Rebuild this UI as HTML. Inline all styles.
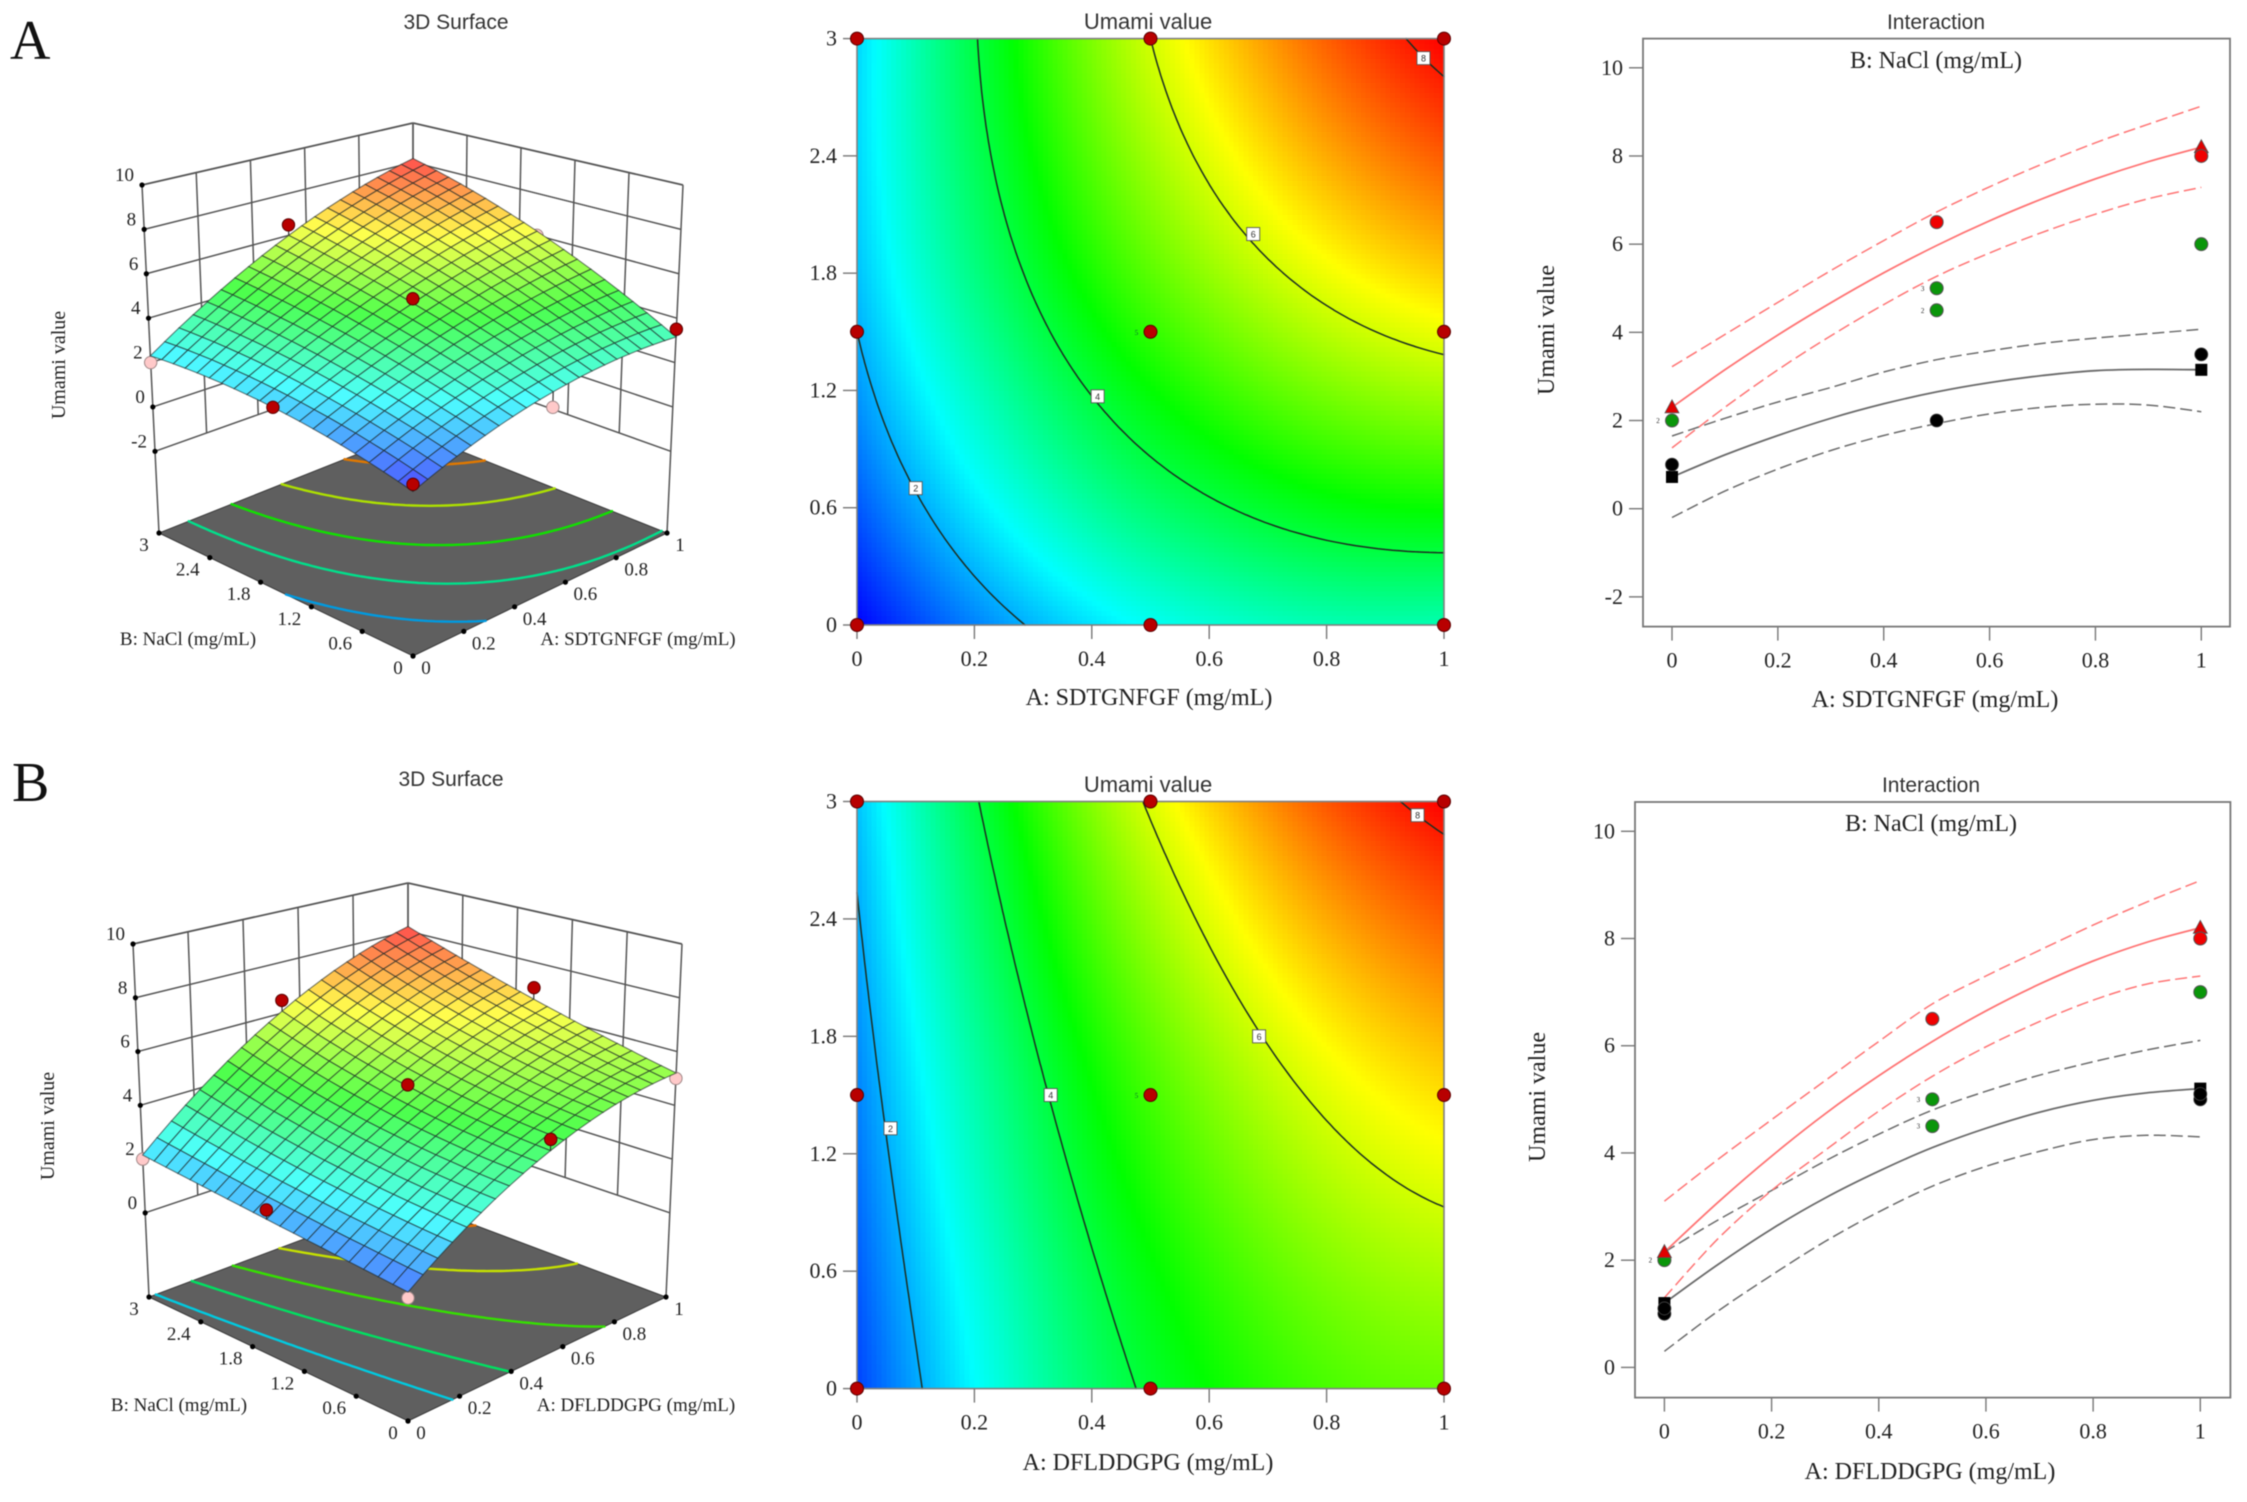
<!DOCTYPE html>
<html lang="en">
<head>
<meta charset="utf-8">
<title>Umami value response surface panels</title>
<style>
html,body{margin:0;padding:0;background:#fff;width:2247px;height:1502px;overflow:hidden}
svg{display:block;filter:blur(0.5px)}
.serif{font-family:"Liberation Serif",serif;fill:#222}
.sans{font-family:"Liberation Sans",sans-serif;fill:#333}
</style>
</head>
<body>
<svg id="figure" xmlns="http://www.w3.org/2000/svg" width="2247" height="1502" viewBox="0 0 2247 1502">
  <text class="serif" x="10" y="59" font-size="56" style="fill:#111">A</text>
  <text class="serif" x="12" y="801" font-size="56" style="fill:#111">B</text>

  <text class="sans" x="456" y="29" font-size="21" text-anchor="middle">3D Surface</text>
  <text class="sans" x="1148" y="29" font-size="22" text-anchor="middle">Umami value</text>
  <text class="sans" x="1936" y="29" font-size="21" text-anchor="middle">Interaction</text>
  <text class="sans" x="451" y="786" font-size="21" text-anchor="middle">3D Surface</text>
  <text class="sans" x="1148" y="792" font-size="22" text-anchor="middle">Umami value</text>
  <text class="sans" x="1931" y="792" font-size="21" text-anchor="middle">Interaction</text>

  <text class="serif" x="638" y="645" font-size="19" text-anchor="middle">A: SDTGNFGF (mg/mL)</text>
  <text class="serif" x="188" y="645" font-size="19" text-anchor="middle">B: NaCl (mg/mL)</text>
  <text class="serif" x="636" y="1411" font-size="19" text-anchor="middle">A: DFLDDGPG (mg/mL)</text>
  <text class="serif" x="179" y="1411" font-size="19" text-anchor="middle">B: NaCl (mg/mL)</text>
  <text class="serif" font-size="20" text-anchor="middle" transform="translate(65 365) rotate(-90)">Umami value</text>
  <text class="serif" font-size="20" text-anchor="middle" transform="translate(54 1126) rotate(-90)">Umami value</text>

  <text class="serif" x="1149" y="705" font-size="24" text-anchor="middle">A: SDTGNFGF (mg/mL)</text>
  <text class="serif" x="1148" y="1470" font-size="24" text-anchor="middle">A: DFLDDGPG (mg/mL)</text>

  <text class="serif" x="1935" y="707" font-size="24" text-anchor="middle">A: SDTGNFGF (mg/mL)</text>
  <text class="serif" x="1930" y="1479" font-size="24" text-anchor="middle">A: DFLDDGPG (mg/mL)</text>
  <text class="serif" x="1936" y="68" font-size="24" text-anchor="middle">B: NaCl (mg/mL)</text>
  <text class="serif" x="1931" y="831" font-size="24" text-anchor="middle">B: NaCl (mg/mL)</text>
  <text class="serif" font-size="24" text-anchor="middle" transform="translate(1554 330) rotate(-90)">Umami value</text>
  <text class="serif" font-size="24" text-anchor="middle" transform="translate(1545 1097) rotate(-90)">Umami value</text>

  <g id="surface-a"></g>
  <g id="contour-a"></g>
  <g id="interaction-a"></g>
  <g id="surface-b"></g>
  <g id="contour-b"></g>
  <g id="interaction-b"></g>
</svg>

<script>
/* ---------- data ---------- */
const factorALevels = [0, 0.5, 1];
const factorBLevels = [0, 1.5, 3];
/* predicted umami at the design levels, one row per NaCl level */
const predictedPanelA = [[0.72, 2.65, 3.15], [2.0, 4.8, 6.2], [2.3, 6.0, 8.2]];
const predictedPanelB = [[1.2, 4.1, 5.2], [1.67, 4.95, 6.55], [2.15, 6.08, 8.2]];
const colorRange = [0.72, 8.2];

/* measured runs */
const runFactorA = [0, 0, 0, 0.5, 0.5, 0.5, 1, 1, 1];
const runFactorB = [0, 1.5, 3, 0, 1.5, 3, 0, 1.5, 3];
const runUmamiPanelA = [1, 2, 2, 2, 5, 6.5, 3.5, 6, 8];
const runUmamiPanelB = [1, 2, 2, 4.5, 5, 6.5, 5, 7, 8];

const floorLevelsPanelA = [2.0, 3.3, 4.6, 5.9, 7.2];
const floorLevelsPanelB = [2.4, 3.65, 4.9, 6.1, 7.3];

const contourLevels = [2, 4, 6, 8];
const contourLabelLevels = [2, 4, 6, 8];
const contourLabelAPanelA = [0.1, 0.41, 0.675, 0.965];
const contourLabelBPanelA = [0.7, 1.17, 2.0, 2.9];
const contourLabelAPanelB = [0.057, 0.33, 0.685, 0.955];
const contourLabelBPanelB = [1.33, 1.5, 1.8, 2.93];

const factorATicks = [0, 0.2, 0.4, 0.6, 0.8, 1];
const factorATickLabels = ['0', '0.2', '0.4', '0.6', '0.8', '1'];
const factorBTicks = [0, 0.6, 1.2, 1.8, 2.4, 3];
const factorBTickLabels = ['0', '0.6', '1.2', '1.8', '2.4', '3'];
const umamiTicksPanelA = [-2, 0, 2, 4, 6, 8, 10];
const umamiTickLabelsPanelA = ['-2', '0', '2', '4', '6', '8', '10'];
const umamiTicksPanelB = [0, 2, 4, 6, 8, 10];
const umamiTickLabelsPanelB = ['0', '2', '4', '6', '8', '10'];

/* interaction curves */
const curveA = [0, 0.1, 0.2, 0.3, 0.4, 0.5, 0.6, 0.7, 0.8, 0.9, 1];
const highMeanPanelA = [2.3, 3.15, 3.94, 4.67, 5.35, 5.97, 6.53, 7.03, 7.48, 7.87, 8.2];
const highUpperPanelA = [3.22, 3.95, 4.68, 5.4, 6.08, 6.73, 7.3, 7.82, 8.3, 8.72, 9.13];
const highLowerPanelA = [1.38, 2.3, 3.15, 3.92, 4.63, 5.27, 5.8, 6.27, 6.68, 7.03, 7.29];
const lowMeanPanelA = [0.72, 1.22, 1.66, 2.05, 2.38, 2.65, 2.86, 3.02, 3.13, 3.16, 3.15];
const lowUpperPanelA = [1.65, 2.05, 2.42, 2.75, 3.1, 3.38, 3.58, 3.75, 3.87, 3.97, 4.07];
const lowLowerPanelA = [-0.2, 0.4, 0.9, 1.32, 1.66, 1.93, 2.15, 2.3, 2.37, 2.35, 2.2];

const highMeanPanelB = [2.15, 3.08, 3.94, 4.73, 5.44, 6.08, 6.65, 7.15, 7.58, 7.93, 8.2];
const highUpperPanelB = [3.1, 3.88, 4.62, 5.35, 6.08, 6.78, 7.3, 7.78, 8.25, 8.68, 9.08];
const highLowerPanelB = [1.3, 2.4, 3.3, 4.05, 4.78, 5.43, 5.98, 6.45, 6.85, 7.15, 7.3];
const lowMeanPanelB = [1.2, 1.92, 2.58, 3.16, 3.66, 4.1, 4.46, 4.76, 4.98, 5.12, 5.2];
const lowUpperPanelB = [2.15, 2.75, 3.3, 3.85, 4.35, 4.8, 5.15, 5.45, 5.7, 5.92, 6.1];
const lowLowerPanelB = [0.3, 1.05, 1.72, 2.35, 2.9, 3.38, 3.75, 4.03, 4.25, 4.33, 4.3];

/* interaction points */
const highPointA = [0.5, 1];
const highPointYPanelA = [6.5, 8];
const highPointYPanelB = [6.5, 8];
const midPointA = [0, 0.5, 0.5, 1];
const midPointYPanelA = [2, 5, 4.5, 6];
const midPointYPanelB = [2, 5, 4.5, 7];
const midPointCounts = ['2', '3', '2', ''];
const midPointCountsPanelB = ['2', '3', '3', ''];
const lowPointAPanelA = [0, 0.5, 1];
const lowPointYPanelA = [1, 2, 3.5];
const lowPointAPanelB = [0, 0, 1, 1];
const lowPointYPanelB = [1, 1.1, 5, 5.1];
const endpointA = [0, 1];
const highEndYPanelA = [2.3, 8.2];
const lowEndYPanelA = [0.72, 3.15];
const highEndYPanelB = [2.15, 8.2];
const lowEndYPanelB = [1.2, 5.2];

/* ---------- helpers ---------- */
const NS = 'http://www.w3.org/2000/svg';
function mk(parent, tag, attrs, text) {
  const node = document.createElementNS(NS, tag);
  for (const k in attrs) node.setAttribute(k, attrs[k]);
  if (text !== undefined) node.textContent = text;
  parent.appendChild(node);
  return node;
}
function lagrange(levels, t) {
  return levels.map((li, i) => {
    let w = 1;
    levels.forEach((lj, j) => { if (i !== j) w *= (t - lj) / (li - lj); });
    return w;
  });
}
function fieldAt(table, a, b) {
  const wa = lagrange(factorALevels, a);
  const wb = lagrange(factorBLevels, b);
  let s = 0;
  for (let r = 0; r < 3; r++) for (let c = 0; c < 3; c++) s += table[r][c] * wb[r] * wa[c];
  return s;
}
const rainbow = [[0, 0, 255], [0, 255, 255], [0, 255, 0], [255, 255, 0], [255, 0, 0]];
function rainbowColor(v) {
  let t = (v - colorRange[0]) / (colorRange[1] - colorRange[0]);
  t = Math.max(0, Math.min(1, t)) * 4;
  const i = Math.min(3, Math.floor(t));
  const f = t - i;
  return [0, 1, 2].map(k => rainbow[i][k] + (rainbow[i + 1][k] - rainbow[i][k]) * f);
}
function cssColor(c, mixWhite, dark) {
  const m = mixWhite || 0, d = dark || 1;
  const out = c.map(x => Math.round((x + (255 - x) * m) * d));
  return 'rgb(' + out.join(',') + ')';
}
function contourSegments(table, level, n) {
  const segs = [];
  const A = i => i / n;
  const B = j => 3 * j / n;
  for (let i = 0; i < n; i++) {
    for (let j = 0; j < n; j++) {
      const c = [[A(i), B(j)], [A(i + 1), B(j)], [A(i + 1), B(j + 1)], [A(i), B(j + 1)]];
      const v = c.map(p => fieldAt(table, p[0], p[1]) - level);
      const pts = [];
      for (let e = 0; e < 4; e++) {
        const p = c[e], q = c[(e + 1) % 4], vp = v[e], vq = v[(e + 1) % 4];
        if ((vp < 0) !== (vq < 0)) {
          const f = vp / (vp - vq);
          pts.push([p[0] + (q[0] - p[0]) * f, p[1] + (q[1] - p[1]) * f]);
        }
      }
      if (pts.length === 2) segs.push(pts);
      if (pts.length === 4) { segs.push([pts[0], pts[1]]); segs.push([pts[2], pts[3]]); }
    }
  }
  return segs;
}
function segmentsToPath(segs, mapPoint) {
  let d = '';
  segs.forEach(s => {
    const p = mapPoint(s[0]), q = mapPoint(s[1]);
    d += 'M' + p[0].toFixed(1) + ' ' + p[1].toFixed(1) + 'L' + q[0].toFixed(1) + ' ' + q[1].toFixed(1);
  });
  return d;
}
function smoothPath(pts) {
  let d = 'M' + pts[0][0].toFixed(1) + ' ' + pts[0][1].toFixed(1);
  for (let i = 0; i < pts.length - 1; i++) {
    const p0 = pts[Math.max(0, i - 1)], p1 = pts[i], p2 = pts[i + 1], p3 = pts[Math.min(pts.length - 1, i + 2)];
    const c1 = [p1[0] + (p2[0] - p0[0]) / 6, p1[1] + (p2[1] - p0[1]) / 6];
    const c2 = [p2[0] - (p3[0] - p1[0]) / 6, p2[1] - (p3[1] - p1[1]) / 6];
    d += 'C' + c1[0].toFixed(1) + ' ' + c1[1].toFixed(1) + ' ' + c2[0].toFixed(1) + ' ' + c2[1].toFixed(1) + ' ' + p2[0].toFixed(1) + ' ' + p2[1].toFixed(1);
  }
  return d;
}

/* ---------- 3D surface ---------- */
function drawSurface(rootId, cfg) {
  const root = document.getElementById(rootId);
  const project = (a, b, z) => {
    const u = a, v = b / 3, w = (z - cfg.floorZ) / (cfg.topZ - cfg.floorZ);
    const bil = (c00, c10, c01, c11, k) =>
      c00[k] * (1 - u) * (1 - v) + c10[k] * u * (1 - v) + c01[k] * (1 - u) * v + c11[k] * u * v;
    const out = [];
    for (let k = 0; k < 2; k++) {
      const lo = bil(cfg.f00, cfg.f10, cfg.f01, cfg.f11, k);
      const hi = bil(cfg.t00, cfg.t10, cfg.t01, cfg.t11, k);
      out.push(lo + (hi - lo) * w);
    }
    return out;
  };
  /* the mesh and runs are drawn with foreshortening: near cells larger than far ones */
  const depthCurve = 0.136;
  const projectSurface = (a, b, z) => {
    const v = b / 3;
    const u2 = a + depthCurve * a * (1 - a) * (2 * v - 1) * (2 * v - 1);
    const v2 = v + depthCurve * v * (1 - v) * (2 * a - 1) * (2 * a - 1);
    return project(u2, v2 * 3, z);
  };
  const zMin = cfg.zTicks[0];
  const wall = (p, q, width) => {
    const ln = mk(root, 'line', { x1: p[0], y1: p[1], x2: q[0], y2: q[1], stroke: '#555', 'stroke-width': width });
    
    
  };
  cfg.zTicks.forEach(z => {
    const w = z === 10 ? 1.8 : 1.5;
    wall(project(0, 3, z), project(1, 3, z), w);
    wall(project(1, 3, z), project(1, 0, z), w);
  });
  factorATicks.forEach(a => wall(project(a, 3, a === 0 || a === 1 ? cfg.floorZ : zMin), project(a, 3, 10), 1.5));
  factorBTicks.forEach(b => wall(project(1, b, b === 0 || b === 3 ? cfg.floorZ : zMin), project(1, b, 10), 1.5));

  /* floor */
  const floorPts = [project(0, 0, cfg.floorZ), project(1, 0, cfg.floorZ), project(1, 3, cfg.floorZ), project(0, 3, cfg.floorZ)];
  const floor = mk(root, 'polygon', { points: floorPts.map(p => p.join(',')).join(' '), fill: '#5f5f5f', stroke: '#3a3a3a', 'stroke-width': 1 });
  
  
  cfg.floorLevels.forEach(level => {
    const segs = contourSegments(cfg.table, level, 60);
    const path = mk(root, 'path', {
      d: segmentsToPath(segs, p => project(p[0], p[1], cfg.floorZ)),
      fill: 'none', stroke: cssColor(rainbowColor(level), 0, 0.88), 'stroke-width': 2.4, 'stroke-linecap': 'round'
    });
    
    
  });

  /* ticks */
  factorATicks.forEach((a, i) => {
    const p = project(a, 0, cfg.floorZ);
    const dot = mk(root, 'circle', { cx: p[0], cy: p[1], r: 2.6, fill: '#000' });
    
    
    const label = factorATickLabels[i];
    const dx = label.length > 1 ? 20 : 13;
    const t = mk(root, 'text', { x: p[0] + dx, y: p[1] + 18, 'font-size': 19, 'text-anchor': 'middle', class: 'serif' }, label);
    
    
  });
  factorBTicks.forEach((b, i) => {
    const p = project(0, b, cfg.floorZ);
    const dot = mk(root, 'circle', { cx: p[0], cy: p[1], r: 2.6, fill: '#000' });
    
    
    const label = factorBTickLabels[i];
    const dx = label.length > 1 ? -22 : -15;
    const t = mk(root, 'text', { x: p[0] + dx, y: p[1] + 18, 'font-size': 19, 'text-anchor': 'middle', class: 'serif' }, label);
    
    
  });
  cfg.zTicks.forEach((z, i) => {
    const p = project(0, 3, z);
    const dot = mk(root, 'circle', { cx: p[0], cy: p[1], r: 2.6, fill: '#000' });
    
    
    const t = mk(root, 'text', { x: p[0] - 8, y: p[1] - 4, 'font-size': 19, 'text-anchor': 'end', class: 'serif' }, cfg.zTickLabels[i]);
    
    
  });

  /* markers */
  const drawMarker = i => {
    const a = runFactorA[i], b = runFactorB[i], z = cfg.runs[i];
    const pred = fieldAt(cfg.table, a, b);
    const above = z >= pred;
    const p = projectSurface(a, b, z), s = projectSurface(a, b, pred);
    const stem = mk(root, 'line', { x1: p[0], y1: p[1], x2: s[0], y2: s[1], stroke: '#333', 'stroke-width': 1.2 });
    
    
    const dot = mk(root, 'circle', { cx: p[0], cy: p[1], r: 6.2, fill: above ? '#b80000' : '#ffc9c9', stroke: above ? '#5a0000' : '#a08888', 'stroke-width': 1 });
    
    
  };
  const isAbove = i => cfg.runs[i] >= fieldAt(cfg.table, runFactorA[i], runFactorB[i]);
  /* the far-corner run sits behind the surface peak and is not visible */
  const isHidden = i => runFactorA[i] === 1 && runFactorB[i] === 3;
  runFactorA.forEach((_, i) => { if (!isAbove(i) && !isHidden(i)) drawMarker(i); });

  /* surface mesh, back to front */
  const n = 20;
  for (let i = n - 1; i >= 0; i--) {
    for (let j = n - 1; j >= 0; j--) {
      const a0 = i / n, a1 = (i + 1) / n, b0 = 3 * j / n, b1 = 3 * (j + 1) / n;
      const corners = [[a0, b0], [a1, b0], [a1, b1], [a0, b1]];
      const pts = corners.map(c => projectSurface(c[0], c[1], fieldAt(cfg.table, c[0], c[1])));
      const v = fieldAt(cfg.table, (a0 + a1) / 2, (b0 + b1) / 2);
      const cell = mk(root, 'polygon', {
        points: pts.map(p => p[0].toFixed(1) + ',' + p[1].toFixed(1)).join(' '),
        fill: cssColor(rainbowColor(v), 0.3),
        stroke: 'rgba(25,35,35,0.6)', 'stroke-width': 1.1
      });
      
      
    }
  }
  runFactorA.forEach((_, i) => { if (isAbove(i)) drawMarker(i); });
}

/* ---------- contour plot ---------- */
function drawContour(rootId, cfg) {
  const root = document.getElementById(rootId);
  const xScale = a => cfg.x0 + a * (cfg.x1 - cfg.x0);
  const yScale = b => cfg.y1 - (b / 3) * (cfg.y1 - cfg.y0);
  const n = 120;
  const heat = mk(root, 'g', { 'shape-rendering': 'crispEdges' });
  
  
  for (let i = 0; i < n; i++) {
    for (let j = 0; j < n; j++) {
      const a0 = i / n, a1 = (i + 1) / n, b0 = 3 * j / n, b1 = 3 * (j + 1) / n;
      const v = fieldAt(cfg.table, (a0 + a1) / 2, (b0 + b1) / 2);
      const x = xScale(a0), y = yScale(b1);
      const cell = mk(heat, 'rect', {
        x: x.toFixed(2), y: y.toFixed(2),
        width: (xScale(a1) - x + 0.6).toFixed(2), height: (yScale(b0) - y + 0.6).toFixed(2),
        fill: cssColor(rainbowColor(v))
      });
      
      
    }
  }
  contourLevels.forEach(level => {
    const path = mk(root, 'path', {
      d: segmentsToPath(contourSegments(cfg.table, level, 80), p => [xScale(p[0]), yScale(p[1])]),
      fill: 'none', stroke: '#1c2e22', 'stroke-width': 1.5, 'stroke-linecap': 'round'
    });
    
    
  });
  const frame = mk(root, 'rect', { x: cfg.x0, y: cfg.y0, width: cfg.x1 - cfg.x0, height: cfg.y1 - cfg.y0, fill: 'none', stroke: '#808080', 'stroke-width': 1.6 });
  
  

  factorATicks.forEach((a, i) => {
    const x = xScale(a);
    const tick = mk(root, 'line', { x1: x, y1: cfg.y1, x2: x, y2: cfg.y1 + 14, stroke: '#777', 'stroke-width': 1.4 });
    
    
    const t = mk(root, 'text', { x: x, y: cfg.y1 + 41, 'font-size': 22, 'text-anchor': 'middle', class: 'serif' }, factorATickLabels[i]);
    
    
  });
  factorBTicks.forEach((b, i) => {
    const y = yScale(b);
    const tick = mk(root, 'line', { x1: cfg.x0, y1: y, x2: cfg.x0 - 14, y2: y, stroke: '#777', 'stroke-width': 1.4 });
    
    
    const t = mk(root, 'text', { x: cfg.x0 - 20, y: y + 7, 'font-size': 22, 'text-anchor': 'end', class: 'serif' }, factorBTickLabels[i]);
    
    
  });
  cfg.labelA.forEach((a, i) => {
    const x = xScale(a), y = yScale(cfg.labelB[i]);
    const box = mk(root, 'rect', { x: x - 6.5, y: y - 6.5, width: 13, height: 13, fill: '#fff', stroke: '#555', 'stroke-width': 0.9 });
    
    
    const t = mk(root, 'text', { x: x, y: y + 3.5, 'font-size': 9, 'text-anchor': 'middle', class: 'sans' }, String(contourLabelLevels[i]));
    
    
  });
  runFactorA.forEach((a, i) => {
    const dot = mk(root, 'circle', { cx: xScale(a), cy: yScale(runFactorB[i]), r: 6.5, fill: '#b80000', stroke: '#5a0000', 'stroke-width': 1 });
    
    
  });
  const count = mk(root, 'text', { x: xScale(0.5) - 14, y: yScale(1.5) + 3, 'font-size': 7, 'text-anchor': 'middle', style: 'fill:#063' }, '5');
  
  
}

/* ---------- interaction plot ---------- */
function drawInteraction(rootId, cfg) {
  const root = document.getElementById(rootId);
  const xScale = a => cfg.xAt0 + a * (cfg.xAt1 - cfg.xAt0);
  const yScale = v => cfg.yAt0 - v * cfg.yUnit;
  const frame = mk(root, 'rect', { x: cfg.left, y: cfg.top, width: cfg.right - cfg.left, height: cfg.bottom - cfg.top, fill: 'none', stroke: '#777', 'stroke-width': 1.8 });
  
  
  factorATicks.forEach((a, i) => {
    const x = xScale(a);
    const tick = mk(root, 'line', { x1: x, y1: cfg.bottom, x2: x, y2: cfg.bottom + 14, stroke: '#777', 'stroke-width': 1.4 });
    
    
    const t = mk(root, 'text', { x: x, y: cfg.bottom + 41, 'font-size': 22, 'text-anchor': 'middle', class: 'serif' }, factorATickLabels[i]);
    
    
  });
  cfg.yTicks.forEach((v, i) => {
    const y = yScale(v);
    const tick = mk(root, 'line', { x1: cfg.left, y1: y, x2: cfg.left - 14, y2: y, stroke: '#777', 'stroke-width': 1.4 });
    
    
    const t = mk(root, 'text', { x: cfg.left - 20, y: y + 7, 'font-size': 22, 'text-anchor': 'end', class: 'serif' }, cfg.yTickLabels[i]);
    
    
  });
  const curve = (vals, color, dashed, name) => {
    const d = smoothPath(vals.map((v, i) => [xScale(curveA[i]), yScale(v)]));
    const path = mk(root, 'path', { d: d, fill: 'none', stroke: color, 'stroke-width': dashed ? 1.5 : 1.8, 'stroke-dasharray': dashed ? '12 5' : 'none', 'stroke-linejoin': 'round' });
    
    
  };
  curve(cfg.lowUpper, '#6a6a6a', true, 'low-nacl-upper-ci');
  curve(cfg.lowLower, '#6a6a6a', true, 'low-nacl-lower-ci');
  curve(cfg.lowMean, '#6a6a6a', false, 'low-nacl-mean-line');
  curve(cfg.highUpper, '#ff7474', true, 'high-nacl-upper-ci');
  curve(cfg.highLower, '#ff7474', true, 'high-nacl-lower-ci');
  curve(cfg.highMean, '#ff7474', false, 'high-nacl-mean-line');

  cfg.lowEnd.forEach((v, i) => {
    const x = xScale(endpointA[i]), y = yScale(v);
    const sq = mk(root, 'rect', { x: x - 6, y: y - 6, width: 12, height: 12, fill: '#000' });
    
    
  });
  cfg.lowA.forEach((a, i) => {
    const dot = mk(root, 'circle', { cx: xScale(a), cy: yScale(cfg.lowY[i]), r: 6.5, fill: '#000', stroke: '#444', 'stroke-width': 0.8 });
    
    
  });
  midPointA.forEach((a, i) => {
    const dot = mk(root, 'circle', { cx: xScale(a), cy: yScale(cfg.midY[i]), r: 6.5, fill: '#0a960a', stroke: '#555', 'stroke-width': 1 });
    
    
    if (cfg.midCounts[i]) {
      const t = mk(root, 'text', { x: xScale(a) - 14, y: yScale(cfg.midY[i]) + 2.5, 'font-size': 7, 'text-anchor': 'middle', class: 'serif' }, cfg.midCounts[i]);
      
      
    }
  });
  cfg.highEnd.forEach((v, i) => {
    const x = xScale(endpointA[i]), y = yScale(v);
    const tri = mk(root, 'polygon', { points: [x - 7, y + 5.5, x + 7, y + 5.5, x, y - 7.5].join(' '), fill: '#e00000', stroke: '#555', 'stroke-width': 0.8 });
    
    
  });
  highPointA.forEach((a, i) => {
    const dot = mk(root, 'circle', { cx: xScale(a), cy: yScale(cfg.highY[i]), r: 6.5, fill: '#f00000', stroke: '#555', 'stroke-width': 1 });
    
    
  });
}

/* ---------- panels ---------- */
drawSurface('surface-a', {
  table: predictedPanelA, runs: runUmamiPanelA, floorLevels: floorLevelsPanelA,
  zTicks: umamiTicksPanelA, zTickLabels: umamiTickLabelsPanelA, floorZ: -5.68, topZ: 10,
  f00: [413, 656], f10: [667, 533], f01: [159, 533], f11: [413, 432],
  t00: [413, 253], t10: [683, 185], t01: [142, 185], t11: [413, 123]
});
drawSurface('surface-b', {
  table: predictedPanelB, runs: runUmamiPanelB, floorLevels: floorLevelsPanelB,
  zTicks: umamiTicksPanelB, zTickLabels: umamiTickLabelsPanelB, floorZ: -3.13, topZ: 10,
  f00: [408, 1421], f10: [666, 1297], f01: [149, 1297], f11: [408, 1200],
  t00: [408, 1030], t10: [682, 944], t01: [133, 944], t11: [408, 883]
});
drawContour('contour-a', {
  table: predictedPanelA, x0: 857, x1: 1444, y0: 38.6, y1: 625,
  labelA: contourLabelAPanelA, labelB: contourLabelBPanelA
});
drawContour('contour-b', {
  table: predictedPanelB, x0: 857, x1: 1444, y0: 801.5, y1: 1388.6,
  labelA: contourLabelAPanelB, labelB: contourLabelBPanelB
});
drawInteraction('interaction-a', {
  left: 1643, right: 2230, top: 38.6, bottom: 626.6,
  xAt0: 1672, xAt1: 2201.3, yAt0: 508.7, yUnit: 44.09,
  yTicks: umamiTicksPanelA, yTickLabels: umamiTickLabelsPanelA,
  highMean: highMeanPanelA, highUpper: highUpperPanelA, highLower: highLowerPanelA,
  lowMean: lowMeanPanelA, lowUpper: lowUpperPanelA, lowLower: lowLowerPanelA,
  highY: highPointYPanelA, midY: midPointYPanelA, midCounts: midPointCounts,
  lowA: lowPointAPanelA, lowY: lowPointYPanelA,
  highEnd: highEndYPanelA, lowEnd: lowEndYPanelA
});
drawInteraction('interaction-b', {
  left: 1635, right: 2230.4, top: 802, bottom: 1397.6,
  xAt0: 1664.4, xAt1: 2200.3, yAt0: 1367.4, yUnit: 53.61,
  yTicks: umamiTicksPanelB, yTickLabels: umamiTickLabelsPanelB,
  highMean: highMeanPanelB, highUpper: highUpperPanelB, highLower: highLowerPanelB,
  lowMean: lowMeanPanelB, lowUpper: lowUpperPanelB, lowLower: lowLowerPanelB,
  highY: highPointYPanelB, midY: midPointYPanelB, midCounts: midPointCountsPanelB,
  lowA: lowPointAPanelB, lowY: lowPointYPanelB,
  highEnd: highEndYPanelB, lowEnd: lowEndYPanelB
});
</script>
</body>
</html>
